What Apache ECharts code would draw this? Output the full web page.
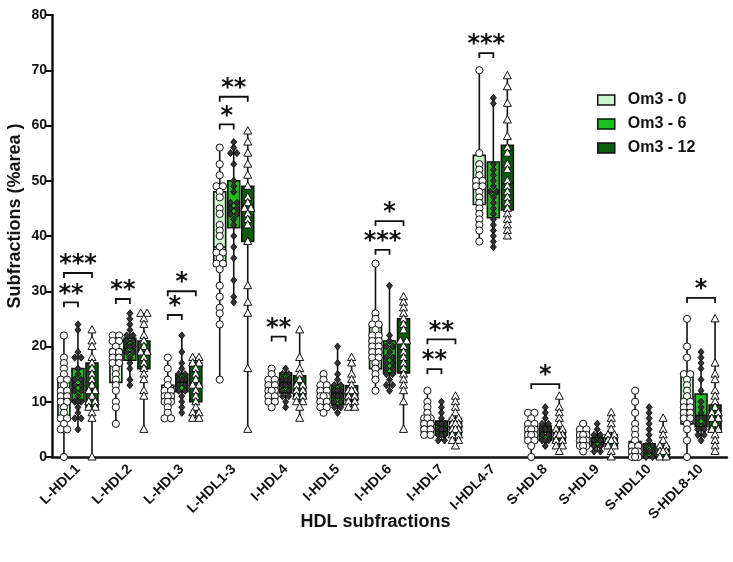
<!DOCTYPE html>
<html><head><meta charset="utf-8">
<script src="https://cdn.jsdelivr.net/npm/echarts@6/dist/echarts.min.js"></script>
<style>html,body{margin:0;padding:0;background:#fff}#c{width:733px;height:562px}</style>
</head><body><div id="c"></div>
<script>
const categories = ['L-HDL1','L-HDL2','L-HDL3','L-HDL1-3','I-HDL4','I-HDL5','I-HDL6','I-HDL7','I-HDL4-7','S-HDL8','S-HDL9','S-HDL10','S-HDL8-10'];
const groupNames = ['Om3 - 0','Om3 - 6','Om3 - 12'];
const yTicks = [0,10,20,30,40,50,60,70,80];

// box stats: [min, q1, median, q3, max]
const box0 = [[0,7,11,14,22],[6,13.5,17.5,19.5,22],[7,9.8,11,13,18],[14,34.6,38,48,56],[9,10.7,12,14.3,16],[8,9.7,11.5,12.8,15],[12,16,22,24,35],[4,4.5,6,7,12],[39,45.7,49,54.6,70],[0,3.4,4.8,5.9,8],[1,2.5,3.5,5,6],[0,0,1,2.8,12],[0,6,10,14.5,25]];
const box6 = [[5,10,13,16,24],[13,17.5,20,21.5,26],[8,11.8,13.5,15,22],[28,41.5,45,50,57],[9,11.6,13.5,15.2,16],[8,9.4,11.5,13,20],[12,15.2,18,21,31],[3,4,5,6.5,10],[38,43.3,48,53.4,65],[2,3.1,4.5,5.6,9],[1,2,2.7,3.5,6],[0,0,1,2.4,9],[3,5.5,7.5,11.4,19]];
const box12 = [[0,9,12,17,23],[5,16,19,21,26],[7,10,13,17,18],[5,39,44.5,49,59],[7,10.9,12.5,14.7,23],[9,10.3,11.5,12.9,18],[5,15.2,21,25,29],[2,4,5.5,7,11],[40,44.7,49.5,56.4,69],[1,2.8,4,4.9,11],[0,1.9,3,4,8],[0,0,1,1.9,7],[1,4.6,7,9.4,25]];

// individual values
const pts0 = [
 [22,18,17,16,15,14,14,13,12,12,11,11,10,10,9,8,7,7,6,5,5,0],
 [22,22,21,21,20,19,19,18,18,17,17,16,15,14,13,12,10,9,6],
 [18,16,14,13,12,12,11,11,11,10,10,10,9,8,7,7],
 [56,53,51,49,49,48,47,45,44,42,41,40,38,37,37,36,35,35,34,31,29,27,26,24,14],
 [16,15,14,14,13,13,12,12,12,11,11,10,10,9],
 [15,14,13,13,12,12,11,11,11,10,10,9,9,8],
 [35,26,25,24,24,23,22,22,21,21,20,20,19,19,18,18,17,16,15,14,12],
 [12,10,9,8,7,7,7,6,6,6,6,5,5,5,5,4,4],
 [70,55,53,52,51,50,50,49,49,48,47,46,45,44,43,42,41,39],
 [8,8,7,6,6,5,5,5,4,4,4,3,3,2,0],
 [6,5,5,4,4,4,3,3,3,2,2,2,1],
 [12,10,8,6,5,4,3,2,2,1,1,1,0,0,0],
 [25,20,18,15,15,14,13,12,11,10,10,9,9,8,8,7,7,6,5,3,0]
];
const pts6 = [
 [24,23,19,18,18,16,15,14,14,13,13,12,12,11,10,10,10,9,8,7,7,5],
 [26,25,24,23,22,22,21,21,20,20,20,19,19,18,17,16,14,13],
 [22,19,17,16,15,15,14,14,14,13,13,12,12,11,10,9,8],
 [57,56,55,55,53,50,49,48,46,46,45,45,44,44,43,42,40,38,36,32,29,28],
 [16,15,15,14,14,14,13,13,13,12,12,11,11,10,9],
 [20,17,15,14,13,13,12,12,12,11,11,11,10,10,9,9,8],
 [31,22,21,20,20,19,18,18,17,17,16,16,15,15,14,13,13,12],
 [10,9,8,7,6,6,6,5,5,5,5,5,4,4,4,3,3],
 [65,64,53,52,51,50,49,48,48,47,46,45,44,43,42,41,40,39,38],
 [9,8,7,6,6,5,5,5,4,4,4,4,3,3,3,2],
 [6,5,4,4,3,3,3,3,2,2,2,2,1,1],
 [9,8,7,6,5,4,3,2,2,1,1,1,0,0],
 [19,18,17,16,14,12,10,9,8,7,7,6,6,5,5,4,4,3]
];
const pts12 = [
 [23,21,20,18,17,16,15,14,13,12,12,11,10,10,9,9,8,7,0],
 [26,26,25,24,22,21,20,19,19,18,17,16,15,14,12,11,5],
 [18,18,17,17,16,15,14,13,13,12,11,10,9,8,8,7,7],
 [59,57,55,53,51,49,47,46,45,45,44,43,42,39,31,28,26,16,5],
 [23,18,16,15,14,13,13,12,12,11,11,10,10,9,7],
 [18,17,15,14,13,12,12,12,11,11,10,10,9,9],
 [29,28,27,26,25,24,23,21,21,20,19,18,17,16,15,14,13,12,10,5],
 [11,10,9,8,7,7,6,6,6,5,5,5,4,4,3,3,2],
 [69,67,64,61,58,56,55,53,52,50,49,48,47,46,45,44,43,42,41,40],
 [11,9,8,7,6,5,5,4,4,4,3,3,2,2,1],
 [8,7,6,5,4,4,3,3,3,2,2,1,0],
 [7,5,4,3,2,2,1,1,1,0,0],
 [25,17,15,14,12,11,10,9,8,8,7,7,6,5,5,4,3,2,1]
];

// significance: category, compared groups, bracket level, stars
const sigCat   = [0,0,1,2,2,3,3,4,6,6,7,7,8,9,12];
const sigFrom  = [0,0,0,0,0,0,0,0,0,0,0,0,0,0,0];
const sigTo    = [1,2,1,1,2,1,2,1,1,2,1,2,1,2,2];
const sigLevel = [28,33.3,28.6,25.7,30,60.2,65.2,21.8,37.5,42.7,15.9,21.3,73.1,13.2,28.8];
const sigStars = ['**','***','**','*','*','*','**','**','***','*','**','**','***','*','*'];

const colors = ['#ccf7cc','#1dbf1d','#0b5e0b'];
const FONT = '"Liberation Sans", Arial, sans-serif';

function groupX(api, cat, g){
  const base = api.coord([cat, 0])[0];
  const bw = api.size([1, 0])[0];
  return base + (g - 1) * bw * 0.27;
}

function boxRender(g){
  return function(params, api){
    const c = api.value(0);
    const bw = api.size([1, 0])[0];
    const cx = groupX(api, c, g);
    const hw = bw * 0.115;
    const y = i => api.coord([c, api.value(i)])[1];
    const ymin = y(1), yq1 = y(2), ymed = y(3), yq3 = y(4), ymax = y(5);
    return {type:'group', children:[
      {type:'line', shape:{x1:cx,y1:ymax,x2:cx,y2:ymin}, style:{stroke:'#111',lineWidth:1.6}},
      {type:'rect', shape:{x:cx-hw,y:yq3,width:2*hw,height:yq1-yq3}, style:{fill:colors[g],stroke:'#111',lineWidth:1.6}},
      {type:'line', shape:{x1:cx-hw,y1:ymed,x2:cx+hw,y2:ymed}, style:{stroke:'#111',lineWidth:1.6}}
    ]};
  };
}

function pointRender(g){
  return function(params, api){
    const c = api.value(0);
    const cx = groupX(api, c, g) + api.value(2);
    const cy = api.coord([c, api.value(1)])[1];
    if (g === 0) {
      return {type:'circle', shape:{cx:cx, cy:cy, r:3.6}, style:{fill:'#fff', stroke:'#111', lineWidth:1}};
    } else if (g === 1) {
      return {type:'polygon', shape:{points:[[cx,cy-3.6],[cx+3,cy],[cx,cy+3.6],[cx-3,cy]]}, style:{fill:'#333', stroke:'#000', lineWidth:0.8}};
    }
    return {type:'polygon', shape:{points:[[cx,cy-4.4],[cx+4,cy+3],[cx-4,cy+3]]}, style:{fill:'#fff', stroke:'#111', lineWidth:1}};
  };
}

function pointData(pts){
  const out = [];
  pts.forEach((arr, i) => {
    const counts = {};
    arr.forEach(v => { counts[v] = (counts[v] || 0) + 1; });
    const seen = {};
    arr.forEach(v => {
      const k = counts[v];
      const j = seen[v] = (seen[v] === undefined ? 0 : seen[v] + 1);
      let dx = k > 1 ? (j % 2 === 0 ? -1 : 1) * 3.2 : 0;
      if (k > 2 && j === k - 1 && k % 2 === 1) dx = 0;
      out.push([i, v, dx]);
    });
  });
  return out;
}

function sigRender(params, api){
  const c = api.value(0), gA = api.value(1), gB = api.value(2), lv = api.value(3);
  const xa = groupX(api, c, gA), xb = groupX(api, c, gB);
  const yb = api.coord([c, lv])[1];
  const label = sigStars[params.dataIndex];
  return {type:'group', children:[
    {type:'polyline', shape:{points:[[xa,yb+5],[xa,yb],[xb,yb],[xb,yb+5]]}, style:{stroke:'#111', lineWidth:1.8, fill:null}},
    {type:'text', x:(xa+xb)/2, y:yb+4, style:{text:label, font:'bold 24px "DejaVu Sans", sans-serif', fill:'#111', align:'center', verticalAlign:'bottom'}}
  ]};
}

const boxes = [box0, box6, box12];
const pts = [pts0, pts6, pts12];
const series = [];
groupNames.forEach((name, g) => {
  series.push({
    name: name, type:'custom', renderItem: boxRender(g),
    itemStyle:{color: colors[g], borderColor:'#111', borderWidth:1.5},
    encode:{x:0, y:[1,2,3,4,5]},
    data: boxes[g].map((b, i) => [i].concat(b)), z:2
  });
});
groupNames.forEach((name, g) => {
  series.push({
    name: name + ' pts', type:'custom', renderItem: pointRender(g),
    encode:{x:0, y:1},
    data: pointData(pts[g]), z:3
  });
});
series.push({
  name:'sig', type:'custom', renderItem: sigRender,
  encode:{x:0, y:3},
  data: sigCat.map((c, i) => [c, sigFrom[i], sigTo[i], sigLevel[i]]), z:4, clip:false
});

const chart = echarts.init(document.getElementById('c'), null, {renderer:'canvas'});
chart.setOption({
  animation:false,
  backgroundColor:'#fff',
  grid:{left:52, right:6, top:15, bottom:105, containLabel:false, outerBoundsMode:'none'},
  legend:{
    orient:'vertical', left:592, top:87, itemWidth:17, itemHeight:10, itemGap:8,
    icon:'rect',
    data: groupNames.map((n, g) => ({name:n, itemStyle:{color:colors[g], borderColor:'#111', borderWidth:1.5}})),
    textStyle:{fontFamily:FONT, fontWeight:'bold', fontSize:16, color:'#111', padding:[0,0,0,8]}
  },
  xAxis:{
    type:'category', data: categories, boundaryGap:true,
    name:'HDL subfractions', nameLocation:'middle', nameGap:56, nameMoveOverlap:false,
    nameTextStyle:{fontFamily:FONT, fontWeight:'bold', fontSize:18, color:'#111', padding:[0,28,0,0]},
    axisLine:{lineStyle:{color:'#111', width:2.5}},
    axisTick:{alignWithLabel:true, length:7, lineStyle:{color:'#111', width:2}},
    axisLabel:{rotate:45, interval:0, margin:10, fontFamily:FONT, fontWeight:'bold', fontSize:14, color:'#111'}
  },
  yAxis:{
    type:'value', min:0, max:80, interval:10,
    name:'Subfractions (%area )', nameLocation:'middle', nameGap:28, nameMoveOverlap:false,
    nameTextStyle:{fontFamily:FONT, fontWeight:'bold', fontSize:18, color:'#111', padding:[0,0,0,40]},
    axisLine:{show:true, lineStyle:{color:'#111', width:2.5}},
    axisTick:{show:true, length:7, lineStyle:{color:'#111', width:2}},
    axisLabel:{margin:5, fontFamily:FONT, fontWeight:'bold', fontSize:14, color:'#111',
      formatter: v => yTicks.indexOf(v) >= 0 ? String(v) : ''},
    splitLine:{show:false}
  },
  series: series
});
</script>
</body></html>
